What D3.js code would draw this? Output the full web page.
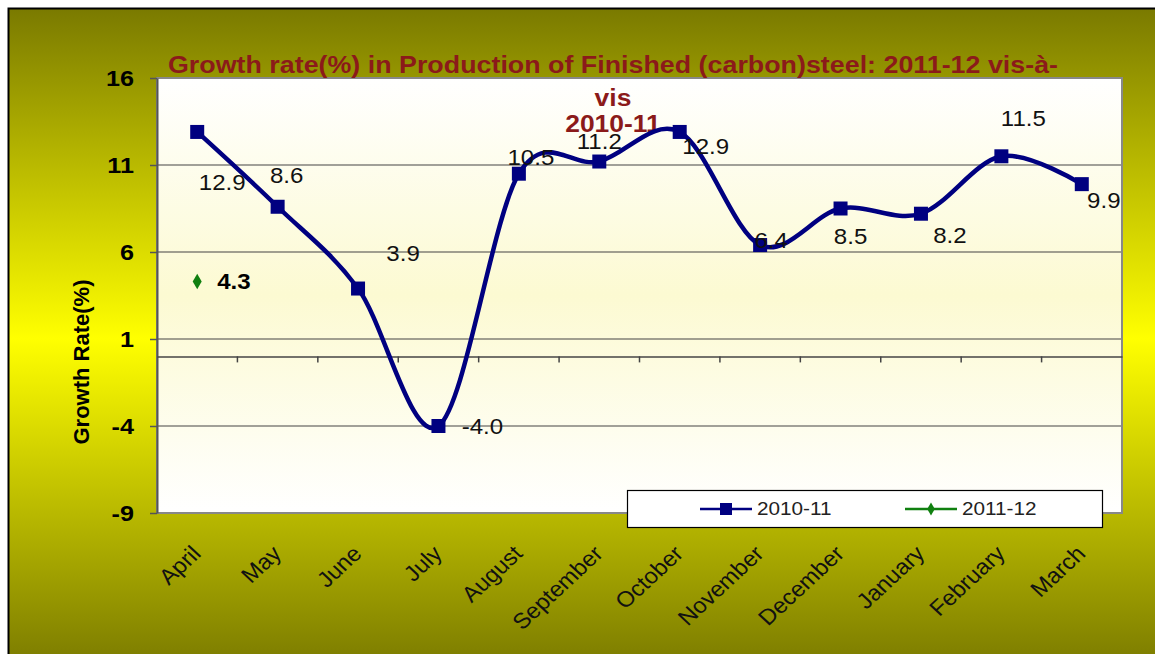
<!DOCTYPE html>
<html><head><meta charset="utf-8">
<script src="https://cdn.jsdelivr.net/npm/d3@7"></script>
<style>body{margin:0;background:#fff}svg{display:block}</style>
</head><body>
<svg id="c" width="1155" height="654"></svg>
<script>
const months = ["April","May","June","July","August","September","October","November","December","January","February","March"];
const values2010 = [12.9, 8.6, 3.9, -4.0, 10.5, 11.2, 12.9, 6.4, 8.5, 8.2, 11.5, 9.9];
const values2011 = [4.3];
const yTicks = [16, 11, 6, 1, -4, -9];
const seriesNames = ["2010-11", "2011-12"];
// label offsets (style): dx, dy relative to point
const labelOffsets = [[25,51],[9,-31],[45,-35],[44,0],[12,-16],[0,-20],[26,15],[11,-5],[10,28],[29,22],[22,-38],[22,16]];

const FONT = "Liberation Sans, Arial, sans-serif";
const SX = 1.12; // horizontal stretch of the original picture
const fmt = d => { const s = d3.format(".1f")(Math.abs(d)); return (d < 0 ? "-" : "") + s; };

const svg = d3.select("#c");
const defs = svg.append("defs");
const og = defs.append("linearGradient").attr("id","outer").attr("x1",0).attr("y1",0).attr("x2",0).attr("y2",1);
og.append("stop").attr("offset","0%").attr("stop-color","#7a7a00");
og.append("stop").attr("offset","50%").attr("stop-color","#ffff00");
og.append("stop").attr("offset","100%").attr("stop-color","#7a7a00");
const pg = defs.append("linearGradient").attr("id","plot").attr("x1",0).attr("y1",0).attr("x2",0).attr("y2",1);
pg.append("stop").attr("offset","0%").attr("stop-color","#ffffff");
pg.append("stop").attr("offset","50%").attr("stop-color","#fcfad2");
pg.append("stop").attr("offset","100%").attr("stop-color","#ffffff");

svg.append("rect").attr("x",0).attr("y",0).attr("width",1155).attr("height",654).attr("fill","#fff");
svg.append("rect").attr("x",8.5).attr("y",8.5).attr("width",1160).attr("height",660)
  .attr("fill","url(#outer)").attr("stroke","#000").attr("stroke-width",2);

const L=157, R=1122, T=78, B=513;
const x = d3.scaleBand().domain(months).range([L,R]);
const y = d3.scaleLinear().domain([-9,16]).range([B,T]);
const cx = d => x(d) + x.bandwidth()/2;

function sText(parent, px, py, str, opts){
  const g = parent.append("g").attr("transform",`translate(${px},${py}) scale(${opts.sx||SX},1)`);
  return g.append("text").attr("x",0).attr("y",0).attr("dy",opts.dy||"0.35em")
    .attr("text-anchor",opts.anchor||"middle").attr("font-family",FONT)
    .attr("font-size",opts.size).attr("font-weight",opts.weight||"normal")
    .attr("fill",opts.fill||"#111").text(str);
}

svg.append("rect").attr("x",L).attr("y",T).attr("width",R-L).attr("height",B-T)
  .attr("fill","url(#plot)");

// gridlines
svg.append("g").selectAll("line").data(yTicks.filter(t=>t>-9 && t<16)).join("line")
  .attr("x1",L).attr("x2",R).attr("y1",d=>y(d)).attr("y2",d=>y(d))
  .attr("stroke","#444").attr("stroke-width",1.2);

// plot border
svg.append("rect").attr("x",L).attr("y",T).attr("width",R-L).attr("height",B-T)
  .attr("fill","none").attr("stroke","#888").attr("stroke-width",2);

// y axis
const yAxis = svg.append("g").attr("transform",`translate(${L},0)`)
  .call(d3.axisLeft(y).tickValues(yTicks).tickSize(7).tickSizeOuter(0).tickFormat(""));
yAxis.select(".domain").attr("stroke","#555").attr("stroke-width",2);
yAxis.selectAll(".tick line").attr("stroke","#555").attr("stroke-width",1.5);
const yl = svg.append("g");
yTicks.forEach(t => sText(yl, 134, y(t), String(t), {size:22.5, weight:"bold", anchor:"end", fill:"#000"}));

// x axis at zero
const xAxis = svg.append("g").attr("transform",`translate(0,${y(0)})`)
  .call(d3.axisBottom(x).tickSize(0).tickFormat(""));
xAxis.select(".domain").attr("stroke","#444").attr("stroke-width",1.5);
svg.append("g").selectAll("line").data(months.slice(1)).join("line")
  .attr("x1",d=>x(d)).attr("x2",d=>x(d)).attr("y1",y(0)).attr("y2",y(0)+6)
  .attr("stroke","#444").attr("stroke-width",1.5);

// x labels
svg.append("g").selectAll("text").data(months).join("text")
  .attr("transform",d=>`translate(${cx(d)+5},${555}) scale(1.08,1) rotate(-45)`)
  .attr("text-anchor","end").attr("font-family",FONT)
  .attr("font-size",22).attr("fill","#111").text(d=>d);

// y title
svg.append("text").attr("transform","translate(89,362) rotate(-90)")
  .attr("text-anchor","middle").attr("font-family",FONT)
  .attr("font-size",22).attr("font-weight","bold").attr("fill","#000").text("Growth Rate(%)");

// title
const tg = svg.append("g");
tg.append("text").attr("x",613).attr("y",73).attr("text-anchor","middle")
  .attr("font-family",FONT).attr("font-size",23).attr("font-weight","bold").attr("fill","#8b1a1a")
  .attr("textLength",890).attr("lengthAdjust","spacingAndGlyphs")
  .text("Growth rate(%) in Production of Finished (carbon)steel: 2011-12 vis-à-");
sText(tg, 613, 98, "vis", {size:23, weight:"bold", fill:"#8b1a1a", sx:1.15});
sText(tg, 613, 124, "2010-11", {size:23, weight:"bold", fill:"#8b1a1a", sx:1.15});

// line
const line = d3.line().x((d,i)=>cx(months[i])).y(d=>y(d)).curve(d3.curveCardinal.tension(0));
svg.append("path").datum(values2010).attr("d",line).attr("fill","none")
  .attr("stroke","#000080").attr("stroke-width",4.5);
svg.append("g").selectAll("rect").data(values2010).join("rect")
  .attr("x",(d,i)=>cx(months[i])-7).attr("y",d=>y(d)-7).attr("width",14).attr("height",14)
  .attr("fill","#000080");

// labels 2010-11
const dl = svg.append("g");
values2010.forEach((v,i) => sText(dl, cx(months[i])+labelOffsets[i][0], y(v)+labelOffsets[i][1], fmt(v), {size:21.5}));

// 2011-12 series
const sym = d3.symbol().type(d3.symbolDiamond).size(70);
svg.append("g").selectAll("path").data(values2011).join("path")
  .attr("transform",(d,i)=>`translate(${cx(months[i])},${y(d)})`).attr("d",sym).attr("fill","#108010");
const dl2 = svg.append("g");
values2011.forEach((v,i) => sText(dl2, cx(months[i])+20, y(v), fmt(v), {size:21.5, weight:"bold", anchor:"start", fill:"#000"}));

// legend
const lg = svg.append("g");
lg.append("rect").attr("x",627.5).attr("y",490.5).attr("width",475).attr("height",37)
  .attr("fill","#fff").attr("stroke","#000").attr("stroke-width",1.2);
const lcol = ["#000080","#108010"];
const lx = [700, 905];
seriesNames.forEach((s,i)=>{
  lg.append("line").attr("x1",lx[i]).attr("x2",lx[i]+52).attr("y1",509).attr("y2",509)
    .attr("stroke",lcol[i]).attr("stroke-width",2.5);
  if(i===0) lg.append("rect").attr("x",lx[i]+20).attr("y",503).attr("width",12).attr("height",12).attr("fill",lcol[i]);
  else lg.append("path").attr("transform",`translate(${lx[i]+26},509)`).attr("d",d3.symbol().type(d3.symbolDiamond).size(50)).attr("fill",lcol[i]);
  sText(lg, lx[i]+57, 509, s, {size:18.5, anchor:"start", fill:"#222"});
});
</script>
</body></html>
